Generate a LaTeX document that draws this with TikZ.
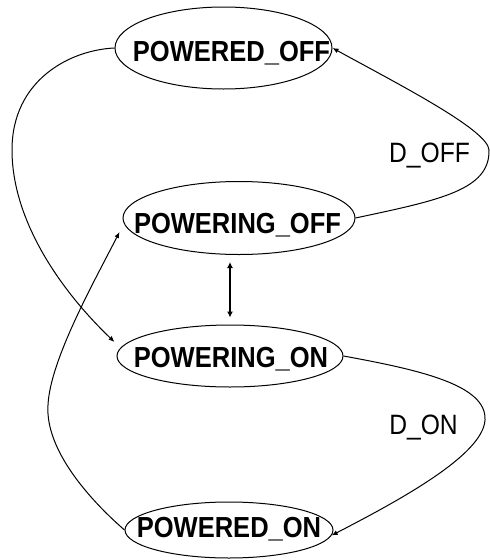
\documentclass[tikz,border=0pt]{standalone}
\usepackage{fontspec}
\setmainfont{Liberation Sans}
\usetikzlibrary{shapes.geometric,arrows.meta,calc}
\newcommand\narrowtext[1]{\scalebox{0.88}[1]{#1}}
\begin{document}
\begin{tikzpicture}[x=1pt,y=-1pt,
  state/.style={draw, ellipse, line width=1pt, inner sep=0pt},
  statename/.style={font=\fontsize{29}{29}\selectfont\bfseries, inner sep=0pt, text depth=0pt},
  edgelabel/.style={font=\fontsize{28}{28}\selectfont, inner sep=0pt, text depth=0pt},
  trans/.style={line width=1pt, -{Latex[length=6pt,width=5pt]}},
  both/.style={line width=1.5pt, {Latex[length=6pt,width=6pt]}-{Latex[length=6pt,width=6pt]}}]
\useasboundingbox[fill=white] (0,0) rectangle (490,560);

% states
\node[state, minimum width=217pt, minimum height=82pt,
  label={[statename, xshift=8pt, yshift=-3pt]center:\narrowtext{POWERED\_OFF}}] (poff) at (223.5,48) {};
\node[state, minimum width=232pt, minimum height=73pt,
  label={[statename, xshift=-1.5pt, yshift=-5pt]center:\narrowtext{POWERING\_OFF}}] (poffing) at (239,218) {};
\node[state, minimum width=226pt, minimum height=62pt,
  label={[statename, xshift=1pt, yshift=-1.5pt]center:\narrowtext{POWERING\_ON}}] (ponning) at (230,356) {};
\node[state, minimum width=208pt, minimum height=56pt,
  label={[statename, yshift=2.5pt]center:\narrowtext{POWERED\_ON}}] (pon) at (229,530) {};

% transition labels
\node[edgelabel] (doff) at (429.5,153) {\narrowtext{D\_OFF}};
\node[edgelabel] (don) at (423.5,425) {\narrowtext{D\_ON}};

% transitions
\draw[trans] (poff.west) .. controls (70,50) and (12,80) .. (12,150)
  .. controls (12,220) and (60,290) .. ([shift={(-2,-14)}]ponning.west);
\draw[trans] (pon.west) .. controls (90,500) and (45,450) .. (48,405)
  .. controls (50,360) and (95,280) .. ([shift={(-3,14)}]poffing.west);
\draw[trans] (poffing.east) .. controls (440,200) and (490,190) .. (489,150)
  .. controls (488,130) and (400,85) .. (poff.east);
\draw[trans] (ponning.east) .. controls (420,370) and (487,385) .. (485,420)
  .. controls (483,455) and (400,500) .. (pon.-3);
\draw[both, shorten <=7pt, shorten >=7pt] (poffing.south -| ponning.north) -- (ponning.north);
\end{tikzpicture}
\end{document}
